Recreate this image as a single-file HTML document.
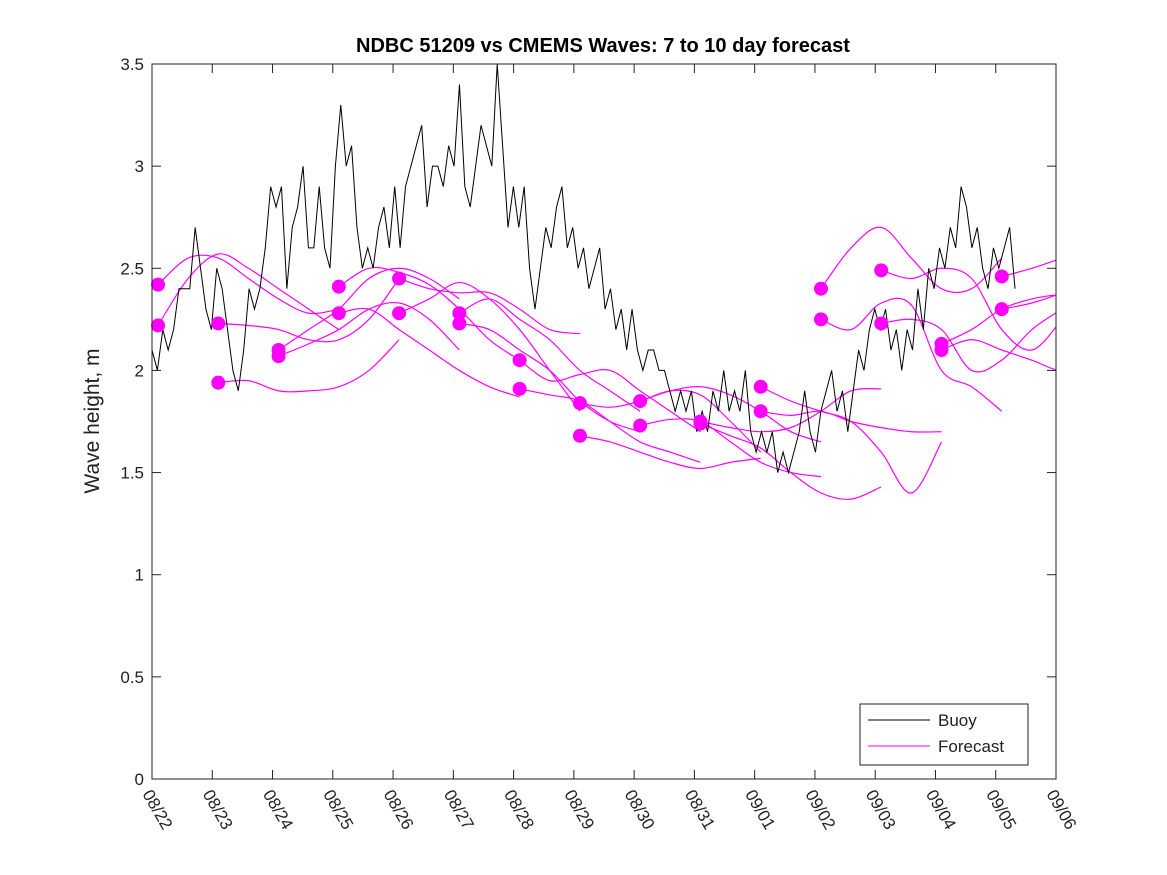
<!DOCTYPE html>
<html><head><meta charset="utf-8">
<style>
body{margin:0;background:#fff;}
svg{display:block;font-family:"Liberation Sans",sans-serif;}
</style></head>
<body>
<svg id="chart" width="1167" height="875">
<rect x="0" y="0" width="1167" height="875" fill="#fff"/>
<defs><clipPath id="clip"><rect x="152" y="64" width="904" height="715"/></clipPath></defs>
<text x="603" y="52" text-anchor="middle" font-size="20" font-weight="bold">NDBC 51209 vs CMEMS Waves: 7 to 10 day forecast</text>
<text transform="translate(99,421) rotate(-90)" text-anchor="middle" font-size="21" fill="#222">Wave height, m</text>
<g id="axes"></g>
<g id="series" clip-path="url(#clip)"></g>
<g id="dots"></g>
<rect x="152" y="64" width="904" height="715" fill="none" stroke="#222" stroke-width="1"/>
<g>
<rect x="860" y="704" width="168" height="61" fill="#fff" stroke="#222"/>
<line x1="868" y1="720" x2="930" y2="720" stroke="#000"/>
<text x="938" y="726" font-size="17" fill="#222">Buoy</text>
<line x1="868" y1="746" x2="930" y2="746" stroke="#f0f"/>
<text x="938" y="752" font-size="17" fill="#222">Forecast</text>
</g>
</svg>
<script>
const xTickLabels=["08/22","08/23","08/24","08/25","08/26","08/27","08/28","08/29","08/30","08/31","09/01","09/02","09/03","09/04","09/05","09/06"];
const yTicks=[0,0.5,1,1.5,2,2.5,3,3.5];
const buoyStartDay=0, buoyEndDay=14.32;
const buoyValues=[2.1,2.0,2.2,2.1,2.2,2.4,2.4,2.4,2.7,2.5,2.3,2.2,2.5,2.4,2.2,2.0,1.9,2.1,2.4,2.3,2.4,2.6,2.9,2.8,2.9,2.4,2.7,2.8,3.0,2.6,2.6,2.9,2.6,2.5,3.0,3.3,3.0,3.1,2.7,2.5,2.6,2.5,2.7,2.8,2.6,2.9,2.6,2.9,3.0,3.1,3.2,2.8,3.0,3.0,2.9,3.1,3.0,3.4,2.9,2.8,3.0,3.2,3.1,3.0,3.5,3.1,2.7,2.9,2.7,2.9,2.5,2.3,2.5,2.7,2.6,2.8,2.9,2.6,2.7,2.5,2.6,2.4,2.5,2.6,2.3,2.4,2.2,2.3,2.1,2.3,2.1,2.0,2.1,2.1,2.0,2.0,1.9,1.8,1.9,1.8,1.9,1.7,1.8,1.7,1.9,1.8,2.0,1.8,1.9,1.8,2.0,1.7,1.6,1.7,1.6,1.7,1.5,1.6,1.5,1.6,1.7,1.9,1.7,1.6,1.8,1.9,2.0,1.8,1.9,1.7,1.9,2.1,2.0,2.2,2.3,2.2,2.3,2.1,2.2,2.0,2.2,2.1,2.4,2.2,2.5,2.4,2.6,2.5,2.7,2.6,2.9,2.8,2.6,2.7,2.5,2.4,2.6,2.5,2.6,2.7,2.4];
const fcStartDays=[0.1,0.1,1.1,1.1,2.1,2.1,3.1,3.1,4.1,4.1,5.1,5.1,6.1,6.1,7.1,7.1,8.1,8.1,9.1,9.1,10.1,10.1,11.1,11.1,12.1,12.1,13.1,13.1,14.1,14.1];
const fcStepDays=0.5;
const fcValues=[
[2.42,2.55,2.55,2.45,2.35,2.28,2.3],
[2.22,2.45,2.57,2.5,2.4,2.3,2.2],
[2.23,2.22,2.2,2.15,2.15,2.25,2.45],
[1.94,1.95,1.9,1.9,1.92,2.0,2.15],
[2.10,2.2,2.3,2.45,2.5,2.45,2.35],
[2.07,2.13,2.2,2.3,2.33,2.25,2.1],
[2.41,2.5,2.48,2.42,2.3,2.15,2.05],
[2.28,2.3,2.2,2.1,2.0,1.92,1.87],
[2.45,2.4,2.38,2.38,2.3,2.2,2.18],
[2.28,2.35,2.43,2.35,2.2,2.0,1.8],
[2.28,2.35,2.25,2.15,2.0,1.9,1.8],
[2.23,2.2,2.1,2.0,1.85,1.75,1.7],
[2.05,1.95,1.98,2.0,1.9,1.8,1.7],
[1.91,1.88,1.85,1.75,1.65,1.6,1.55],
[1.84,1.82,1.85,1.9,1.88,1.75,1.6],
[1.68,1.65,1.6,1.55,1.52,1.55,1.57],
[1.85,1.9,1.92,1.88,1.8,1.7,1.65],
[1.73,1.76,1.75,1.65,1.55,1.5,1.48],
[1.75,1.72,1.7,1.72,1.8,1.9,1.91],
[1.74,1.68,1.62,1.5,1.4,1.37,1.43],
[1.92,1.85,1.8,1.75,1.6,1.4,1.65],
[1.80,1.78,1.8,1.75,1.72,1.7,1.7],
[2.40,2.6,2.7,2.55,2.4,2.4,2.55],
[2.25,2.2,2.33,2.32,2.0,1.92,1.8],
[2.49,2.45,2.5,2.45,2.2,2.1,2.25],
[2.23,2.25,2.2,2.0,2.05,2.2,2.3],
[2.13,2.2,2.3,2.35,2.37,2.35,2.4],
[2.10,2.15,2.1,2.05,2.0,2.05,2.3],
[2.46,2.5,2.55,2.6,2.6,2.6,2.6],
[2.30,2.33,2.38,2.45,2.45,2.45,2.45]];

const X0=152,X1=1056,Y0=779,Y1=64,NS="http://www.w3.org/2000/svg";
const NDAYS=xTickLabels.length-1;
const xs=d=>X0+d*(X1-X0)/NDAYS;
const ys=v=>Y0-v*(Y0-Y1)/3.5;
function mk(t,a,p){const e=document.createElementNS(NS,t);for(const k in a)e.setAttribute(k,a[k]);p.appendChild(e);return e;}
const axes=document.getElementById('axes');
xTickLabels.forEach((l,i)=>{
 const x=xs(i);
 const t1=mk('line',{x1:x,y1:Y0,x2:x,y2:Y0-9,stroke:'#222'},axes);
 
 
 mk('line',{x1:x,y1:Y1,x2:x,y2:Y1+9,stroke:'#222'},axes);
 const tx=mk('text',{x:0,y:0,'font-size':17,fill:'#222',transform:`translate(${x-10},${Y0+15}) rotate(60)`},axes);
 tx.textContent=l;
 
 
});
yTicks.forEach(v=>{
 const y=ys(v);
 mk('line',{x1:X0,y1:y,x2:X0+9,y2:y,stroke:'#222'},axes);
 mk('line',{x1:X1,y1:y,x2:X1-9,y2:y,stroke:'#222'},axes);
 const tx=mk('text',{x:X0-8,y:y+6,'font-size':17,fill:'#222','text-anchor':'end'},axes);
 tx.textContent=String(v);
 
 
});
const ser=document.getElementById('series'),dots=document.getElementById('dots');
fcValues.forEach((vals,i)=>{
 const s=fcStartDays[i];
 const pts=vals.map((v,j)=>[xs(s+j*fcStepDays),ys(v)]);
 let d=`M${pts[0][0]},${pts[0][1]}`;
 for(let j=0;j<pts.length-1;j++){const p0=pts[Math.max(0,j-1)],p1=pts[j],p2=pts[j+1],p3=pts[Math.min(pts.length-1,j+2)];
  d+=` C${p1[0]+(p2[0]-p0[0])/6},${p1[1]+(p2[1]-p0[1])/6} ${p2[0]-(p3[0]-p1[0])/6},${p2[1]-(p3[1]-p1[1])/6} ${p2[0]},${p2[1]}`;}
 const p=mk('path',{d:d,fill:'none',stroke:'#f0f','stroke-width':1.2},ser);
 
 
 if(s<NDAYS){const c=mk('circle',{cx:xs(s),cy:ys(vals[0]),r:7,fill:'#f0f'},dots);
 
 }
});
const n=buoyValues.length,step=(buoyEndDay-buoyStartDay)/(n-1);
let bd='';
buoyValues.forEach((v,i)=>{bd+=(i?'L':'M')+xs(buoyStartDay+i*step)+','+ys(v)+' ';});
const bp=mk('path',{d:bd,fill:'none',stroke:'#000','stroke-width':1},ser);


</script>
</body></html>
